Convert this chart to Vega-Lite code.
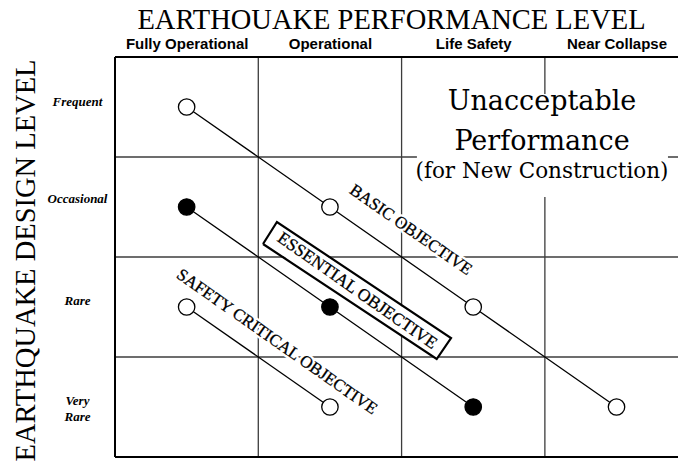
{
  "$schema": "https://vega.github.io/schema/vega-lite/v6.json",
  "width": 563,
  "height": 400,
  "autosize": "none",
  "padding": {"left": 115, "top": 57, "right": 0, "bottom": 4},
  "background": "white",
  "config": {"view": {"stroke": null}},
  "datasets": {
    "objectives": [
      {"objective": "Basic", "perf": 0.5, "level": 0.5},
      {"objective": "Basic", "perf": 1.5, "level": 1.5},
      {"objective": "Basic", "perf": 2.5, "level": 2.5},
      {"objective": "Basic", "perf": 3.5, "level": 3.5},
      {"objective": "Essential", "perf": 0.5, "level": 1.5},
      {"objective": "Essential", "perf": 1.5, "level": 2.5},
      {"objective": "Essential", "perf": 2.5, "level": 3.5},
      {"objective": "Safety Critical", "perf": 0.5, "level": 2.5},
      {"objective": "Safety Critical", "perf": 1.5, "level": 3.5}
    ],
    "labels": [
      {"label": "BASIC OBJECTIVE", "perf": 2.064, "level": 1.73},
      {"label": "SAFETY CRITICAL OBJECTIVE", "perf": 1.13, "level": 2.85}
    ]
  },
  "encoding": {
    "x": {
      "field": "perf", "type": "quantitative",
      "scale": {"domain": [0, 3.929], "nice": false, "zero": false},
      "axis": {
        "orient": "top", "values": [0.5, 1.5, 2.5, 3.5],
        "labelExpr": "datum.value < 1 ? 'Fully Operational' : datum.value < 2 ? 'Operational' : datum.value < 3 ? 'Life Safety' : 'Near Collapse'",
        "domain": false, "ticks": false, "tickSize": 0, "grid": false,
        "labelFont": "Liberation Sans", "labelFontWeight": "bold", "labelFontSize": 15, "labelColor": "black",
        "labelPadding": 6, "labelFlush": false, "labelOverlap": false,
        "title": "EARTHOUAKE PERFORMANCE LEVEL",
        "titleFont": "Liberation Serif", "titleFontSize": 28.5, "titleFontWeight": "normal", "titleColor": "black",
        "titleX": 276, "titleY": -29, "titleAlign": "center", "titleBaseline": "alphabetic"
      }
    },
    "y": {
      "field": "level", "type": "quantitative",
      "scale": {"domain": [0, 4], "reverse": true, "nice": false, "zero": false},
      "axis": {
        "orient": "left", "values": [0.44, 1.41, 2.43, 3.43],
        "labelExpr": "datum.value < 1 ? 'Frequent' : datum.value < 2 ? 'Occasional' : datum.value < 3 ? 'Rare' : ['Very', 'Rare']",
        "domain": false, "ticks": false, "tickSize": 0, "grid": false,
        "labelFont": "Liberation Serif", "labelFontWeight": "bold", "labelFontStyle": "italic", "labelFontSize": 13, "labelColor": "black",
        "labelPadding": 38, "labelAlign": "center", "labelFlush": false, "labelOverlap": false, "labelLineHeight": 16,
        "title": "EARTHQUAKE DESIGN LEVEL",
        "titleFont": "Liberation Serif", "titleFontSize": 28.5, "titleFontWeight": "normal", "titleColor": "black",
        "titleX": -90, "titleY": 203, "titleAngle": 270, "titleAlign": "center", "titleBaseline": "middle"
      }
    }
  },
  "layer": [
    {
      "data": {"values": [{"perf": 1, "level": 0, "level2": 4}, {"perf": 2, "level": 0, "level2": 4}, {"perf": 3, "level": 0, "level2": 4}]},
      "mark": {"type": "rule", "color": "#3c3c3c", "strokeWidth": 1.3},
      "encoding": {"y2": {"field": "level2"}}
    },
    {
      "data": {"values": [{"perf": 0, "perf2": 4, "level": 1}, {"perf": 0, "perf2": 4, "level": 2}, {"perf": 0, "perf2": 4, "level": 3}]},
      "mark": {"type": "rule", "color": "#3c3c3c", "strokeWidth": 1.3},
      "encoding": {"x2": {"field": "perf2"}}
    },
    {
      "data": {"values": [{"perf": 0, "perf2": 4, "level": 0}, {"perf": 0, "perf2": 4, "level": 4}]},
      "mark": {"type": "rule", "color": "black", "strokeWidth": 2},
      "encoding": {"x2": {"field": "perf2"}}
    },
    {
      "data": {"values": [{"perf": 0, "level": 0, "level2": 4}]},
      "mark": {"type": "rule", "color": "black", "strokeWidth": 2},
      "encoding": {"y2": {"field": "level2"}}
    },
    {
      "data": {"values": [{"perf": 2.107, "perf2": 3.859, "level": 0.37, "level2": 1.4}]},
      "mark": {"type": "rect", "fill": "white"},
      "encoding": {"x2": {"field": "perf2"}, "y2": {"field": "level2"}}
    },
    {
      "data": {"name": "objectives"},
      "mark": {"type": "line", "color": "black", "strokeWidth": 1.3},
      "encoding": {
        "detail": {"field": "objective"},
        "order": {"field": "perf"}
      }
    },
    {
      "data": {"values": [{"perf": 1.085, "level": 1.76}, {"perf": 2.29, "level": 2.915}]},
      "mark": {"type": "line", "color": "white", "strokeWidth": 24, "strokeCap": "butt"},
      "encoding": {"order": {"field": "perf"}}
    },
    {
      "data": {"values": [
        {"perf": 1.033, "level": 1.87, "s": 0},
        {"perf": 1.13, "level": 1.65, "s": 1},
        {"perf": 2.345, "level": 2.81, "s": 2},
        {"perf": 2.245, "level": 3.02, "s": 3},
        {"perf": 1.033, "level": 1.87, "s": 4}
      ]},
      "mark": {"type": "line", "color": "black", "strokeWidth": 2.2, "strokeJoin": "miter"},
      "encoding": {"order": {"field": "s"}}
    },
    {
      "data": {"name": "objectives"},
      "mark": {"type": "point", "filled": false, "stroke": "black", "strokeWidth": 1.3, "size": 270, "opacity": 1},
      "encoding": {
        "fill": {"field": "objective", "type": "nominal", "scale": {"domain": ["Basic", "Essential", "Safety Critical"], "range": ["white", "black", "white"]}, "legend": null}
      }
    },
    {
      "data": {"name": "labels"},
      "mark": {"type": "text", "angle": 35, "font": "Liberation Serif", "fontSize": 17, "stroke": "white", "strokeWidth": 5, "strokeJoin": "round", "align": "center", "baseline": "middle"},
      "encoding": {"text": {"field": "label"}}
    },
    {
      "data": {"name": "labels"},
      "mark": {"type": "text", "angle": 35, "font": "Liberation Serif", "fontSize": 17, "color": "black", "stroke": "black", "strokeWidth": 0.3, "align": "center", "baseline": "middle"},
      "encoding": {"text": {"field": "label"}}
    },
    {
      "data": {"values": [{"label": "ESSENTIAL OBJECTIVE", "perf": 1.69, "level": 2.34}]},
      "mark": {"type": "text", "angle": 35, "font": "Liberation Serif", "fontSize": 17.5, "color": "black", "stroke": "black", "strokeWidth": 0.3, "align": "center", "baseline": "middle"},
      "encoding": {"text": {"field": "label"}}
    },
    {
      "data": {"values": [{"label": "Unacceptable", "perf": 2.98, "level": 0.447}, {"label": "Performance", "perf": 2.98, "level": 0.85}]},
      "mark": {"type": "text", "font": "DejaVu Serif", "fontSize": 27, "color": "black", "align": "center", "baseline": "middle"},
      "encoding": {"text": {"field": "label"}}
    },
    {
      "data": {"values": [{"label": "(for New Construction)", "perf": 2.98, "level": 1.15}]},
      "mark": {"type": "text", "font": "DejaVu Serif", "fontSize": 21.5, "color": "black", "align": "center", "baseline": "middle"},
      "encoding": {"text": {"field": "label"}}
    }
  ]
}
